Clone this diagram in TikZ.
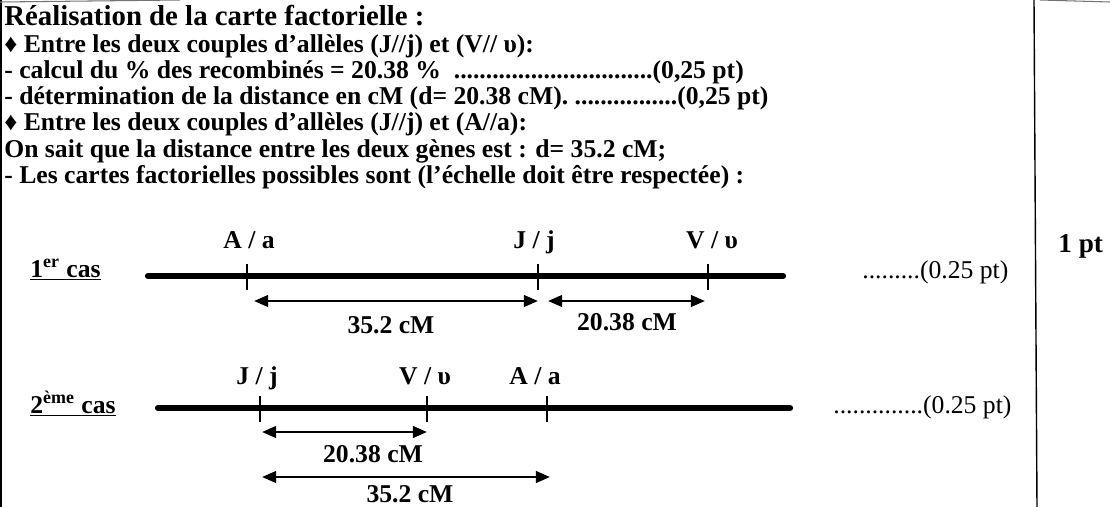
\documentclass[tikz,border=0pt]{standalone}
\usepackage{fontspec}
\setmainfont{Liberation Serif}
\usetikzlibrary{arrows.meta, positioning, calc}

\tikzset{
    txt/.style={font=\fontsize{14.6}{16}\selectfont\bfseries, anchor=base west, inner sep=0pt},
    pts/.style={font=\fontsize{14.6}{16}\selectfont, anchor=base west, inner sep=0pt},
    lbl/.style={font=\fontsize{14.6}{16}\selectfont\bfseries, anchor=base, inner sep=0pt},
    chrom/.style={line width=3.6pt, line cap=round},
    gtick/.style={line width=1.1pt},
    dist/.style={{Triangle[length=8pt,width=6.5pt]}-{Triangle[length=8pt,width=6.5pt]}, line width=1.5pt},
}

\begin{document}
\begin{tikzpicture}[x=0.02cm, y=-0.02cm]
\useasboundingbox (0,0) rectangle (1110,507);

% =========================================================
%  Frame of the answer box
% =========================================================
\draw[line width=0.9pt] (1,0) -- (1,507);
\draw[line width=0.6pt, black!55] (0,2) -- (180,0);
\draw[line width=0.6pt, black!55] (1040,0) -- (1110,2);
\draw[line width=0.8pt] (1034,0) -- (1037,507);
\node[txt, font=\fontsize{15.5}{17}\selectfont\bfseries] (total) at (1058,252) {1 pt};

% =========================================================
%  Text of the answer
% =========================================================
\node[txt, font=\fontsize{16.4}{18}\selectfont\bfseries] (title) at (4,26) {Réalisation de la carte factorielle :};
\node[txt] (jv) at (4,52) {♦ Entre les deux couples d'allèles (J//j) et (V// υ):};
\node[txt] (calc) at (4,78) {- calcul du \% des recombinés = 20.38 \%\ \ ...............................(0,25 pt)};
\node[txt] (dist) at (4,104) {- détermination de la distance en cM (d= 20.38 cM). ................(0,25 pt)};
\node[txt] (ja) at (4,130) {♦ Entre les deux couples d'allèles (J//j) et (A//a):};
\node[txt] (known) at (4,157) {On sait que la distance entre les deux gènes est : d= 35.2 cM;};
\node[txt] (cartes) at (4,183) {- Les cartes factorielles possibles sont (l’échelle doit être respectée) :};

% =========================================================
%  1er cas : A -- J -- V
% =========================================================
\node[txt] (cas1) at (30,277) {\underline{1\textsuperscript{er} cas}};

\coordinate (c1s) at (148,276);
\coordinate (c1e) at (783,276);
\coordinate (A1) at (247,276);
\coordinate (J1) at (538,276);
\coordinate (V1) at (708,276);
\draw[chrom] (c1s) -- (c1e);

\node[lbl] (A1lbl) at (249,248) {A / a};
\node[lbl] (J1lbl) at (534,248) {J / j};
\node[lbl] (V1lbl) at (712,248) {V / υ};

% distances
\coordinate (d1a) at (254,301);
\coordinate (d1b) at (538,301);
\coordinate (d1c) at (548,301);
\coordinate (d1d) at (705,301);
\draw[dist] (d1a) -- (d1b);
\draw[dist] (d1c) -- (d1d);
\node[lbl] (AJ1) at (391,333) {35.2 cM};
\node[lbl] (JV1) at (627,330) {20.38 cM};

\node[pts] (pts1) at (862,278) {.........(0.25 pt)};

% =========================================================
%  2eme cas : J -- V -- A
% =========================================================
\node[txt] (cas2) at (30,413) {\underline{2\textsuperscript{ème} cas}};

\coordinate (c2s) at (158,408);
\coordinate (c2e) at (790,408);
\coordinate (J2) at (260,408);
\coordinate (V2) at (427,408);
\coordinate (A2) at (547,408);
\draw[chrom] (c2s) -- (c2e);

\node[lbl] (J2lbl) at (257,384) {J / j};
\node[lbl] (V2lbl) at (425,384) {V / υ};
\node[lbl] (A2lbl) at (535,384) {A / a};

% distances
\coordinate (d2a) at (262,432);
\coordinate (d2b) at (427,432);
\coordinate (d2c) at (262,477);
\coordinate (d2d) at (550,477);
\draw[dist] (d2a) -- (d2b);
\draw[dist] (d2c) -- (d2d);
\node[lbl] (JV2) at (373,462) {20.38 cM};
\node[lbl] (JA2) at (410,502) {35.2 cM};

\node[pts] (pts2) at (833,413) {..............(0.25 pt)};

% gene loci on both maps
\foreach \g in {A1, J1, V1, J2, V2, A2}
    \draw[gtick] ($(\g)+(0,-12)$) -- ($(\g)+(0,14)$);

\end{tikzpicture}
\end{document}
